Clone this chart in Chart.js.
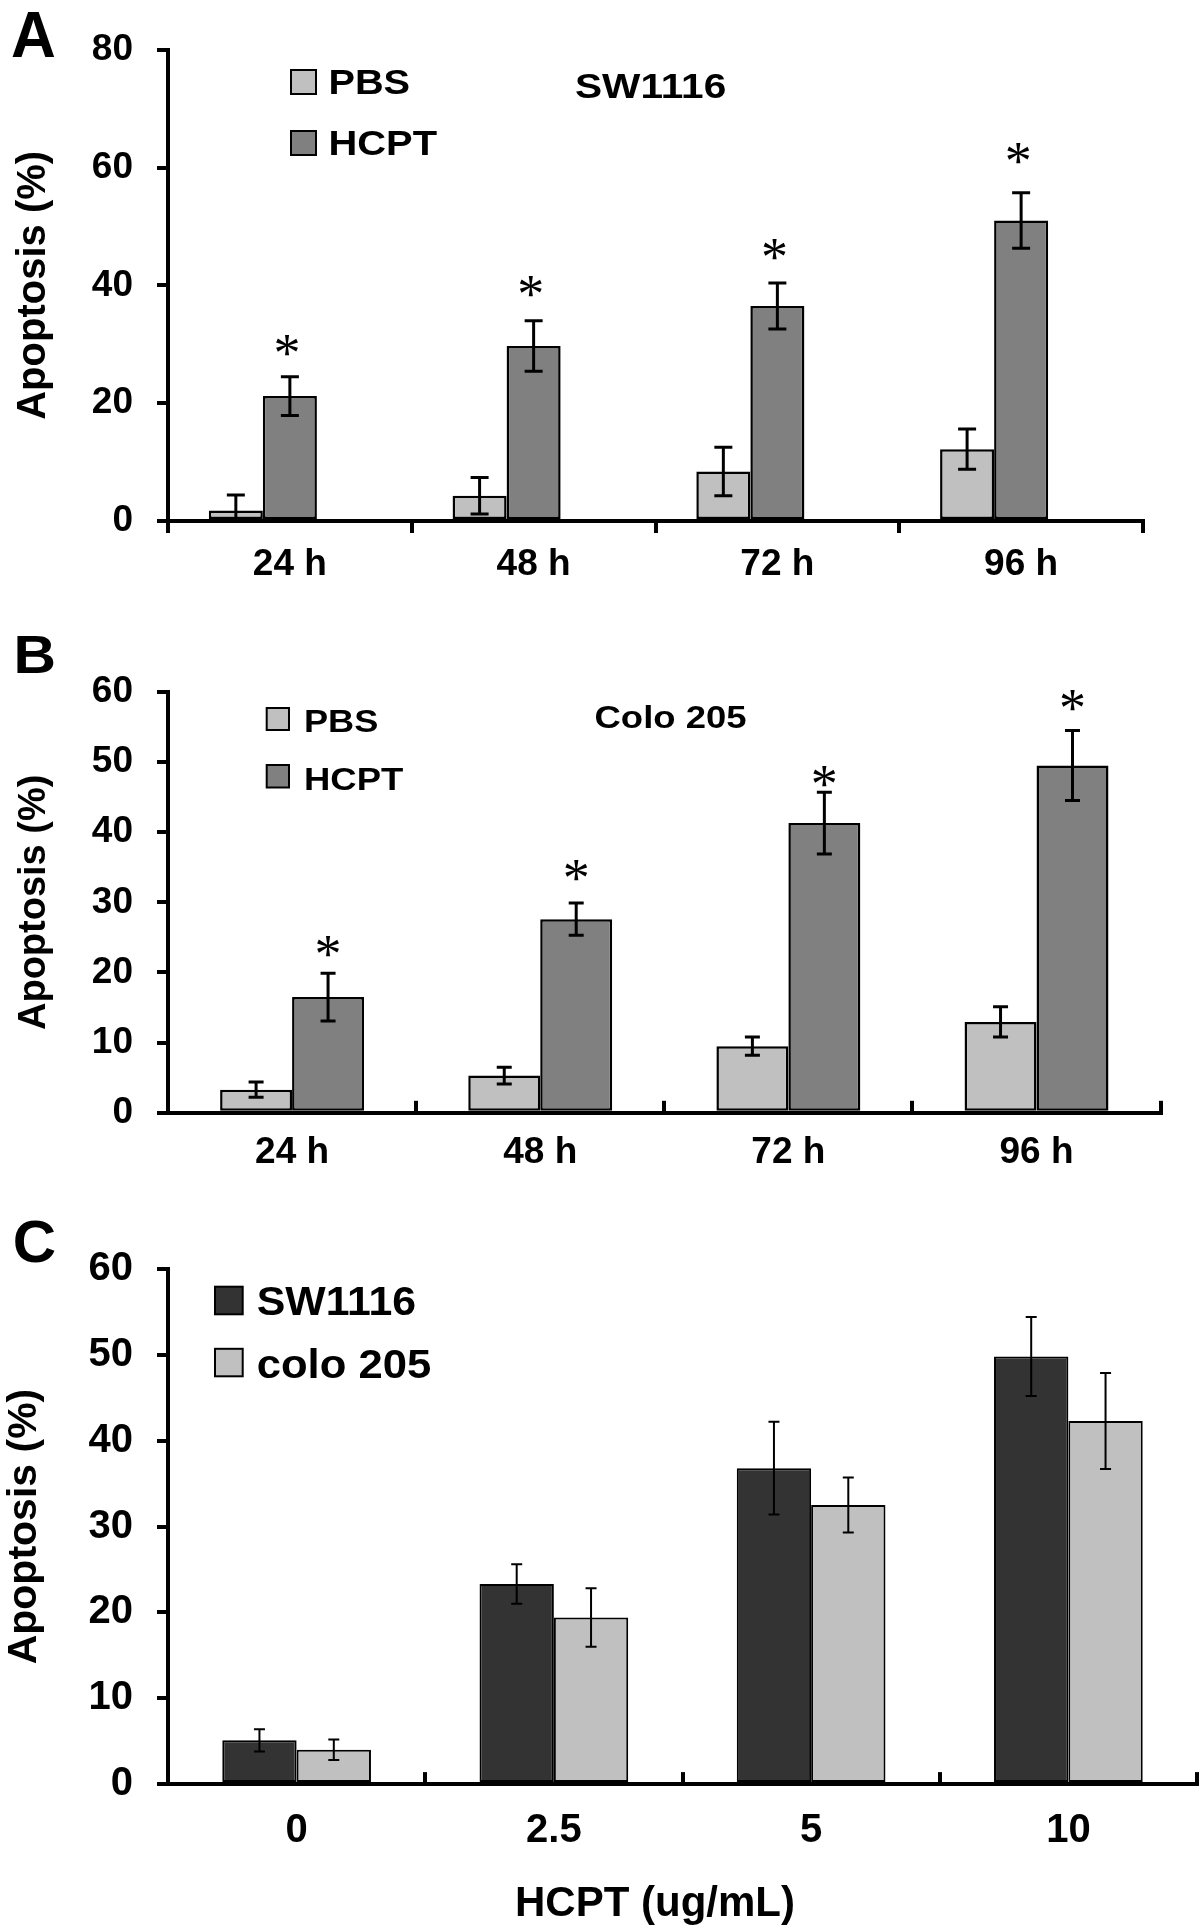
<!DOCTYPE html>
<html><head><meta charset="utf-8">
<script src="https://cdn.jsdelivr.net/npm/chart.js@4.4.1/dist/chart.umd.min.js"></script>
<style>
html,body{margin:0;padding:0;background:#fff;width:1200px;height:1925px;overflow:hidden;}
.panel{position:absolute;left:0;}
canvas{display:block;}
</style>
</head><body>
<div class="panel" style="top:0px"><canvas id="cA" width="1200" height="600"></canvas></div>
<div class="panel" style="top:600px"><canvas id="cB" width="1200" height="620"></canvas></div>
<div class="panel" style="top:1220px"><canvas id="cC" width="1200" height="705"></canvas></div>
<script>
// ---------- DATA ----------
// Panel A : SW1116, apoptosis (%) over time
const timeLabels = ['24 h', '48 h', '72 h', '96 h'];
const swPBS      = [1.8, 4.3, 8.4, 12.2];
const swPBSErr   = [2.6, 3.1, 4.1, 3.4];
const swHCPT     = [21.2, 29.7, 36.5, 51.0];
const swHCPTErr  = [3.3, 4.3, 3.9, 4.7];
const swStars    = [29.9, 39.9, 46.2, 62.4];   // level of the "*" marks
const emptySeries = [null, null, null, null];  // unused third series slot (shifts groups as in original)
const yTicksA    = [0, 20, 40, 60, 80];

// Panel B : Colo 205, apoptosis (%) over time
const coloPBS     = [3.3, 5.3, 9.5, 12.95];
const coloPBSErr  = [1.1, 1.2, 1.3, 2.15];
const coloHCPT    = [16.5, 27.6, 41.3, 49.5];
const coloHCPTErr = [3.4, 2.3, 4.4, 5.0];
const coloStars   = [23.7, 34.6, 48.0, 58.8];
const yTicksB     = [0, 10, 20, 30, 40, 50, 60];

// Panel C : dose response
const doseLabels  = ['0', '2.5', '5', '10'];
const doseSW      = [5.1, 23.3, 36.8, 49.8];
const doseSWErr   = [1.3, 2.3, 5.4, 4.6];
const doseColo    = [4.0, 19.4, 32.5, 42.3];
const doseColoErr = [1.2, 3.4, 3.2, 5.6];
const yTicksC     = [0, 10, 20, 30, 40, 50, 60];

// ---------- STYLE ----------
const SANS = '"Liberation Sans", Arial, Helvetica, sans-serif';
const SERIF = '"Liberation Serif", "Times New Roman", serif';
const LIGHT = '#c0c0c0', MID = '#808080', DARK = '#333333';

function txt(ctx, t, x, y, size, sx, align) {
  ctx.save();
  ctx.font = 'bold ' + size + 'px ' + SANS;
  ctx.fillStyle = '#000';
  ctx.textBaseline = 'alphabetic';
  ctx.textAlign = align || 'left';
  ctx.translate(x, y);
  ctx.scale(sx || 1, 1);
  ctx.fillText(t, 0, 0);
  ctx.restore();
}
function box(ctx, x, y, w, h, fill) {
  ctx.save();
  ctx.fillStyle = fill; ctx.fillRect(x, y, w, h);
  ctx.strokeStyle = '#000'; ctx.lineWidth = 2; ctx.strokeRect(x, y, w, h);
  ctx.restore();
}

// error bars drawn through the chart's own scales
const errorBarPlugin = {
  id: 'errorBars',
  afterDatasetsDraw(chart, args, opts) {
    const ctx = chart.ctx, ys = chart.scales.y, area = chart.chartArea;
    ctx.save();
    ctx.beginPath(); ctx.rect(area.left, area.top - 40, area.right - area.left, area.bottom - area.top + 40); ctx.clip();
    ctx.strokeStyle = '#000'; ctx.lineWidth = opts.lineWidth; ctx.lineCap = 'butt';
    (opts.errors || []).forEach((errs, di) => {
      if (!errs) return;
      const meta = chart.getDatasetMeta(di);
      const data = chart.data.datasets[di].data;
      meta.data.forEach((el, j) => {
        const v = data[j], e = errs[j];
        if (v == null || e == null) return;
        const x = el.x;
        const yt = ys.getPixelForValue(v + e), yb = ys.getPixelForValue(v - e);
        const hw = opts.cap / 2;
        ctx.beginPath();
        ctx.moveTo(x, yt); ctx.lineTo(x, yb);
        ctx.moveTo(x - hw, yt); ctx.lineTo(x + hw, yt);
        ctx.moveTo(x - hw, yb); ctx.lineTo(x + hw, yb);
        ctx.stroke();
      });
    });
    ctx.restore();
  }
};

// significance asterisks, placed through the scales
const starPlugin = {
  id: 'stars',
  afterDraw(chart, args, opts) {
    if (!opts.levels) return;
    const ctx = chart.ctx, ys = chart.scales.y;
    const meta = chart.getDatasetMeta(opts.dataset);
    ctx.save();
    ctx.font = opts.size + 'px ' + SERIF;
    ctx.fillStyle = '#000'; ctx.textAlign = 'center'; ctx.textBaseline = 'alphabetic';
    meta.data.forEach((el, j) => {
      const yc = ys.getPixelForValue(opts.levels[j]);
      ctx.fillText('*', el.x + (opts.dx || 0), yc + opts.size * 0.48);
    });
    ctx.restore();
  }
};

// panel letters, legends and in-plot titles
const decorPlugin = {
  id: 'decor',
  afterDraw(chart, args, opts) { if (opts.draw) opts.draw(chart.ctx, chart); }
};

function yScale(ticks, titleSize, titlePad, tickSize) {
  return {
    z: 1,
    min: ticks[0], max: ticks[ticks.length - 1],
    afterBuildTicks: s => { s.ticks = ticks.map(v => ({ value: v })); },
    afterFit: s => { s.width = 168; },
    border: { display: true, color: '#000', width: 4 },
    grid: { display: true, drawOnChartArea: false, drawTicks: true, tickLength: 11, lineWidth: 4, color: '#000' },
    ticks: { color: '#000', padding: 24, font: { family: SANS, size: tickSize, weight: 'bold' } },
    title: { display: true, text: 'Apoptosis (%)', color: '#000', padding: { top: titlePad, bottom: 0 },
             font: { family: SANS, size: titleSize, weight: 'bold' } }
  };
}
function xScale(height, tickLen, pad, tickSize) {
  return {
    z: 1,
    offset: true,
    afterFit: s => { s.height = height; },
    border: { display: true, color: '#000', width: 4 },
    grid: { display: true, offset: true, drawOnChartArea: false, drawTicks: true, tickLength: tickLen, lineWidth: 4, color: '#000' },
    ticks: { color: '#000', padding: pad, maxRotation: 0, autoSkip: false, font: { family: SANS, size: tickSize, weight: 'bold' } }
  };
}
function barDs(label, data, color, bw) {
  return { label, data, backgroundColor: color, borderColor: '#000', borderWidth: bw, borderSkipped: false };
}
const common = { responsive: false, animation: false, devicePixelRatio: 1, events: [] };

// ---------- PANEL A ----------
new Chart(document.getElementById('cA'), {
  type: 'bar',
  data: { labels: timeLabels, datasets: [
    barDs('PBS', swPBS, LIGHT, 2.5),
    barDs('HCPT', swHCPT, MID, 2.5),
    barDs('', emptySeries, 'rgba(0,0,0,0)', 0)
  ]},
  options: Object.assign({}, common, {
    layout: { padding: { left: 0, top: 49.7, right: 57, bottom: 0 } },
    datasets: { bar: { categoryPercentage: 0.665, barPercentage: 1.0 } },
    scales: { x: xScale(79, 12, 10, 37), y: yScale(yTicksA, 40, 10, 37) },
    plugins: {
      legend: { display: false }, tooltip: { enabled: false },
      errorBars: { errors: [swPBSErr, swHCPTErr], lineWidth: 3, cap: 18 },
      stars: { levels: swStars, dataset: 1, size: 54, dx: -3 },
      decor: { draw: (ctx) => {
        txt(ctx, 'A', 11, 56.7, 64, 0.97);
        box(ctx, 291, 70, 25, 24, LIGHT); txt(ctx, 'PBS', 328.4, 94, 35, 1.135);
        box(ctx, 291, 131, 25, 24, MID);  txt(ctx, 'HCPT', 328.4, 155, 35, 1.14);
        txt(ctx, 'SW1116', 575, 97.6, 35, 1.16);
      }}
    }
  }),
  plugins: [errorBarPlugin, starPlugin, decorPlugin]
});

// ---------- PANEL B ----------
new Chart(document.getElementById('cB'), {
  type: 'bar',
  data: { labels: timeLabels, datasets: [
    barDs('PBS', coloPBS, LIGHT, 2.5),
    barDs('HCPT', coloHCPT, MID, 2.5)
  ]},
  options: Object.assign({}, common, {
    layout: { padding: { left: 0, top: 91.8, right: 39.4, bottom: 0 } },
    datasets: { bar: { categoryPercentage: 0.58, barPercentage: 1.0 } },
    scales: { x: xScale(107.2, -12, 30, 37), y: yScale(yTicksB, 38, 12, 37) },
    plugins: {
      legend: { display: false }, tooltip: { enabled: false },
      errorBars: { errors: [coloPBSErr, coloHCPTErr], lineWidth: 3, cap: 15 },
      stars: { levels: coloStars, dataset: 1, size: 54, dx: 0 },
      decor: { draw: (ctx) => {
        txt(ctx, 'B', 13.4, 72.7, 54, 1.09);
        box(ctx, 266.7, 108, 22.3, 22, LIGHT); txt(ctx, 'PBS', 304, 132, 32, 1.13);
        box(ctx, 266.7, 165, 22.3, 22.5, MID); txt(ctx, 'HCPT', 304, 190, 32, 1.14);
        txt(ctx, 'Colo 205', 594.5, 128, 32, 1.14);
      }}
    }
  }),
  plugins: [errorBarPlugin, starPlugin, decorPlugin]
});

// ---------- PANEL C ----------
new Chart(document.getElementById('cC'), {
  type: 'bar',
  data: { labels: doseLabels, datasets: [
    barDs('SW1116', doseSW, DARK, 2),
    barDs('colo 205', doseColo, LIGHT, 2)
  ]},
  options: Object.assign({}, common, {
    layout: { padding: { left: 0, top: 49, right: 3, bottom: 0 } },
    datasets: { bar: { categoryPercentage: 0.578, barPercentage: 1.0 } },
    scales: { x: xScale(140.9, -12, 34.5, 40), y: yScale(yTicksC, 41, 0, 40) },
    plugins: {
      legend: { display: false }, tooltip: { enabled: false },
      errorBars: { errors: [doseSWErr, doseColoErr], lineWidth: 2, cap: 11 },
      decor: { draw: (ctx) => {
        txt(ctx, 'C', 12.7, 42, 60, 1.0);
        box(ctx, 215, 66.7, 27.7, 27.6, DARK);  txt(ctx, 'SW1116', 256.7, 95, 40, 1.07);
        box(ctx, 215, 128.8, 27.7, 27.5, LIGHT); txt(ctx, 'colo 205', 256.7, 158.3, 40, 1.09);
        txt(ctx, 'HCPT (ug/mL)', 655, 696, 42, 1.0, 'center');
      }}
    }
  }),
  plugins: [errorBarPlugin, decorPlugin]
});
</script>
</body></html>
